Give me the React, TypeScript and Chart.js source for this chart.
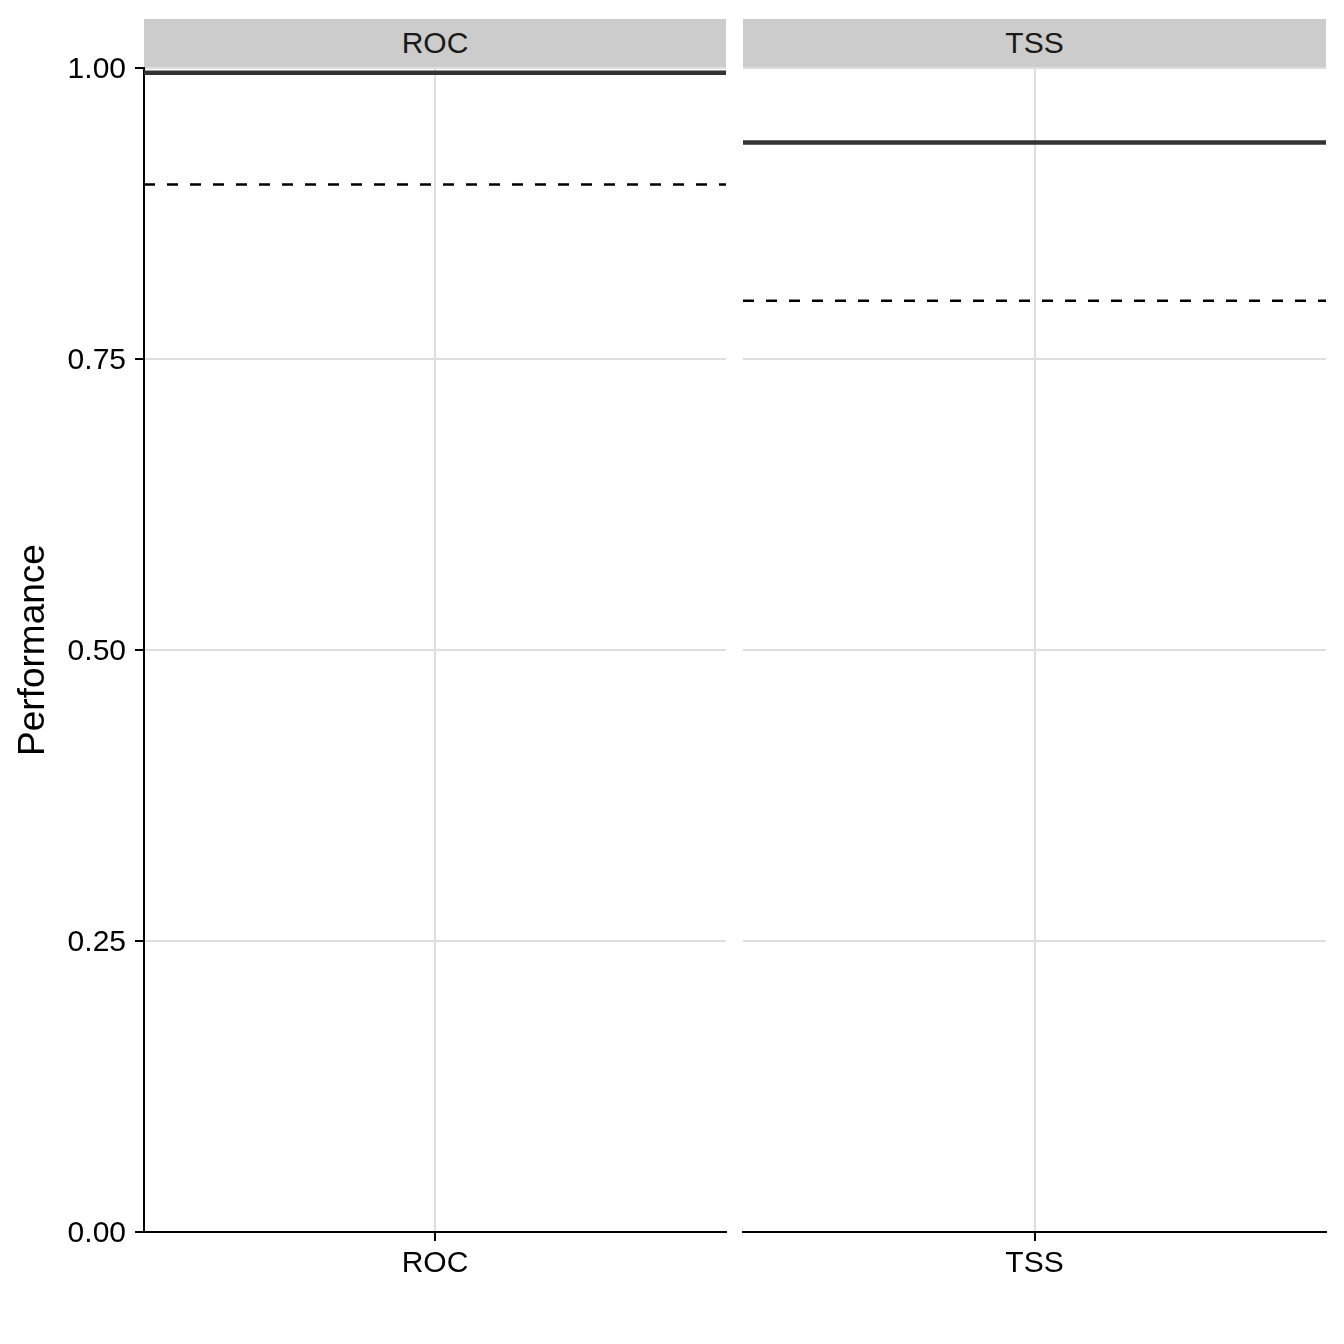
import { useEffect, useRef } from 'react'
import { Chart, registerables } from 'chart.js'

Chart.register(...registerables)

// Données : une facette par métrique
const categories = ['ROC', 'TSS']
const meanPerformance = [0.996, 0.936] // trait plein
const thresholdPerformance = [0.9, 0.8] // trait pointillé
const yTicks = [0, 0.25, 0.5, 0.75, 1]

const FONT = '"Liberation Sans", Arial, Helvetica, sans-serif'
const PAGE = 1344
const AREA_TOP = 68
const AREA_BOTTOM = 1232

type PanelProps = {
    index: number
    canvasLeft: number
    canvasWidth: number
    areaLeft: number
    areaRight: number
    showY: boolean
}

function Panel({ index, canvasLeft, canvasWidth, areaLeft, areaRight, showY }: PanelProps) {
    const canvasRef = useRef<HTMLCanvasElement>(null)
    const chartRef = useRef<Chart | null>(null)

    useEffect(() => {
        if (!canvasRef.current) return
        if (chartRef.current) {
            chartRef.current.destroy()
            chartRef.current = null
        }

        const category = categories[index]
        const mean = meanPerformance[index]
        const threshold = thresholdPerformance[index]
        const yAxisWidth = showY ? areaLeft - canvasLeft : 0

        chartRef.current = new Chart(canvasRef.current, {
            type: 'line',
            data: {
                datasets: [
                    {
                        data: [{ x: 0, y: mean }, { x: 2, y: mean }],
                        borderColor: '#333333',
                        borderWidth: 4.5,
                        pointRadius: 0,
                        fill: false,
                    },
                    {
                        data: [{ x: 0, y: threshold }, { x: 2, y: threshold }],
                        borderColor: '#000000',
                        borderWidth: 2.5,
                        borderDash: [11, 12],
                        pointRadius: 0,
                        fill: false,
                    },
                ],
            },
            options: {
                animation: false,
                responsive: false,
                maintainAspectRatio: false,
                devicePixelRatio: 1,
                layout: {
                    padding: {
                        left: showY ? 0 : areaLeft - canvasLeft,
                        top: AREA_TOP,
                        right: canvasLeft + canvasWidth - areaRight,
                        bottom: 0,
                    },
                },
                plugins: {
                    legend: { display: false },
                    tooltip: { enabled: false },
                },
                scales: {
                    x: {
                        type: 'linear',
                        min: 0,
                        max: 2,
                        afterBuildTicks: (s: any) => { s.ticks = [{ value: 1 }] },
                        afterFit: (s: any) => { s.height = PAGE - AREA_BOTTOM },
                        ticks: {
                            callback: () => category,
                            color: '#000000',
                            font: { family: FONT, size: 30 },
                            padding: 5,
                            maxRotation: 0,
                            autoSkip: false,
                        },
                        grid: {
                            color: '#DEDEDE',
                            lineWidth: 2,
                            tickColor: '#000000',
                            tickLength: 9,
                            tickWidth: 2,
                        },
                        border: { display: true, color: '#000000', width: 2 },
                    },
                    y: {
                        type: 'linear',
                        min: 0,
                        max: 1,
                        afterBuildTicks: (s: any) => { s.ticks = yTicks.map(value => ({ value })) },
                        afterFit: (s: any) => { s.width = yAxisWidth },
                        ticks: {
                            display: showY,
                            callback: (v: any) => Number(v).toFixed(2),
                            color: '#000000',
                            font: { family: FONT, size: 30 },
                            padding: 9,
                            labelOffset: 2,
                        },
                        grid: {
                            color: '#DEDEDE',
                            lineWidth: 2,
                            drawTicks: showY,
                            tickColor: '#000000',
                            tickLength: 9,
                            tickWidth: 2,
                        },
                        border: { display: showY, color: '#000000', width: 2 },
                        title: {
                            display: showY,
                            text: 'Performance',
                            color: '#000000',
                            font: { family: FONT, size: 37 },
                            padding: { top: 12, bottom: 0 },
                        },
                    },
                },
            },
        })

        return () => {
            if (chartRef.current) {
                chartRef.current.destroy()
                chartRef.current = null
            }
        }
    }, [index, canvasLeft, canvasWidth, areaLeft, areaRight, showY])

    return (
        <>
            <canvas
                ref={canvasRef}
                width={canvasWidth}
                height={PAGE}
                style={{ position: 'absolute', left: canvasLeft, top: 0, width: canvasWidth, height: PAGE }}
            />
            {/* bandeau de facette */}
            <div
                style={{
                    position: 'absolute',
                    left: areaLeft,
                    top: 19,
                    width: areaRight - areaLeft,
                    height: 48,
                    background: '#CCCCCC',
                    color: '#1A1A1A',
                    fontFamily: FONT,
                    fontSize: 30,
                    lineHeight: '48px',
                    textAlign: 'center',
                }}
            >
                {categories[index]}
            </div>
        </>
    )
}

function App() {
    return (
        <div style={{ position: 'absolute', left: 0, top: 0, width: PAGE, height: PAGE, background: '#FFFFFF' }}>
            <Panel index={0} canvasLeft={0} canvasWidth={735} areaLeft={144} areaRight={726} showY={true} />
            <Panel index={1} canvasLeft={735} canvasWidth={609} areaLeft={743} areaRight={1326} showY={false} />
        </div>
    )
}

export default App
